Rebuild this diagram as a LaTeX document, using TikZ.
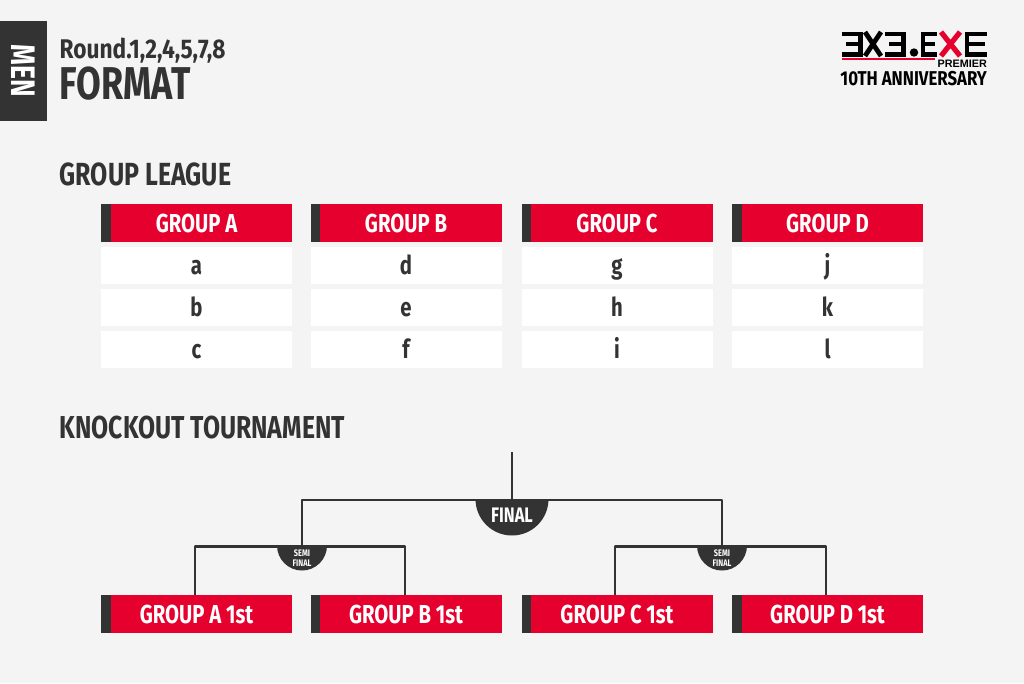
\documentclass[tikz,border=0pt]{standalone}
\usepackage{fontspec}
\newfontfamily\osw[FakeStretch=0.78]{Fira Sans}
\newfontfamily\oswround[FakeStretch=0.84]{Fira Sans}
\newfontfamily\oswlogo[FakeStretch=0.84]{Fira Sans}
\newfontfamily\logofont{Liberation Sans}
\definecolor{bgc}{HTML}{F4F4F4}
\definecolor{dk}{HTML}{333333}
\definecolor{rd}{HTML}{E6002D}
\newcommand{\fsz}[1]{\fontsize{#1}{#1}\selectfont}
\tikzset{
  heading/.style={anchor=west,inner sep=0,text=dk,font=\osw\bfseries},
  redbox/.style={rectangle,inner sep=0,minimum width=191pt,minimum height=38pt,fill=rd,text=white,
    text height=18pt,text depth=0pt,font=\osw\bfseries\fsz{26},
    path picture={\fill[dk] (path picture bounding box.north west) rectangle ([xshift=9.5pt]path picture bounding box.south west);}},
  rowbox/.style={rectangle,inner sep=0,minimum width=191pt,minimum height=37pt,fill=white,text=dk,
    text height=17pt,text depth=0pt,font=\osw\bfseries\fsz{26}},
  wire/.style={draw=dk,line width=2.8pt,line join=round},
  stage/.style={text=white,inner sep=0,align=center},
  logoline/.style={line width=4.2pt,line cap=butt,line join=miter}
}
\begin{document}
\begin{tikzpicture}[x=1pt,y=-1pt]
\useasboundingbox (0,0) rectangle (1024,683);
\fill[bgc] (0,0) rectangle (1024,683);
% header
\node[rectangle,fill=dk,minimum width=47pt,minimum height=100pt,inner sep=0] (men) at (23.5,71) {};
\node[text=white,rotate=-90,inner sep=0,font=\osw\bfseries\fsz{34}] (mentxt) at (23.5,71) {MEN};
\node[heading,font=\oswround\bfseries\fsz{27}] (round) at (59.5,50.5) {Round.1,2,4,5,7,8};
\node[heading,font=\osw\bfseries\fsz{46}] (format) at (59.5,83.5) {FORMAT};
\node[heading,font=\osw\bfseries\fsz{32}] (gl) at (59.5,174.5) {GROUP LEAGUE};
\node[heading,font=\osw\bfseries\fsz{31.7}] (ko) at (59.5,428) {KNOCKOUT TOURNAMENT};
% logo
\begin{scope}[logoline]
 \draw (842,33.6) -- (860.5,33.6) -- (860.5,54.4) -- (842,54.4) (846,44) -- (860.5,44);
 \draw[line width=4.8pt] (865,32) -- (881,56) (881,32) -- (865,56);
 \draw (885,33.6) -- (903.5,33.6) -- (903.5,54.4) -- (885,54.4) (889,44) -- (903.5,44);
 \fill[black] (914,52.5) circle (4.2);
 \draw (937,33.6) -- (923,33.6) -- (923,54.4) -- (937,54.4) (923,44) -- (935,44);
 \draw[rd,line width=5.2pt] (941,32) -- (960,56) (960,32) -- (941,56);
 \draw (987,33.6) -- (967,33.6) -- (967,54.4) -- (987,54.4) (967,44) -- (985,44);
\end{scope}
\fill[rd] (842,58.2) rectangle (935,60);
\node[anchor=east,inner sep=0,text=black,font=\logofont\bfseries\fsz{10.8}] (prem) at (987,63.5) {PREMIER};
\node[anchor=east,inner sep=0,text=black,font=\oswlogo\bfseries\fsz{20}] (anniv) at (987,78.5) {10TH ANNIVERSARY};
% group tables
\foreach \nm/\cx/\ra/\rb/\rc/\gl in {A/196.5/a/b/c/A,B/406/d/e/f/B,C/617/g/h/i/C,D/827.5/j/k/l/D}{
  \node[redbox] (h\nm) at (\cx,223) {GROUP \gl};
  \node[rowbox] (r\nm1) at (\cx,265.5) {\ra};
  \node[rowbox] (r\nm2) at (\cx,307.5) {\rb};
  \node[rowbox] (r\nm3) at (\cx,349.5) {\rc};
  \node[redbox] (q\nm) at (\cx,614) {GROUP \gl\ 1st};
}
% bracket
\coordinate (top) at (512,452);
\coordinate (fin) at (512,500);
\coordinate (sfL) at (302,546.5);
\coordinate (sfR) at (722,546.5);
\draw[wire] ([xshift=-1.5pt]qA.north) |- (sfL) -| ([xshift=-1pt]qB.north);
\draw[wire] ([xshift=-2pt]qC.north) |- (sfR) -| ([xshift=-1.5pt]qD.north);
\draw[wire] (sfL) |- (fin) -| (sfR);
\draw[wire] (top) -- (fin);
% stage badges
\fill[dk] (475.5,499) arc[start angle=180,end angle=0,radius=36.5] -- cycle;
\node[stage,font=\osw\bfseries\fsz{21}] (ftxt) at (512,515) {FINAL};
\fill[dk] (277,545.5) arc[start angle=180,end angle=0,radius=25] -- cycle;
\node[stage,font=\osw\bfseries\fsz{9.5}\setlength{\baselineskip}{10pt}] (s1) at (302,558) {SEMI\\FINAL};
\fill[dk] (697,545.5) arc[start angle=180,end angle=0,radius=25] -- cycle;
\node[stage,font=\osw\bfseries\fsz{9.5}\setlength{\baselineskip}{10pt}] (s2) at (722,558) {SEMI\\FINAL};
\end{tikzpicture}
\end{document}
